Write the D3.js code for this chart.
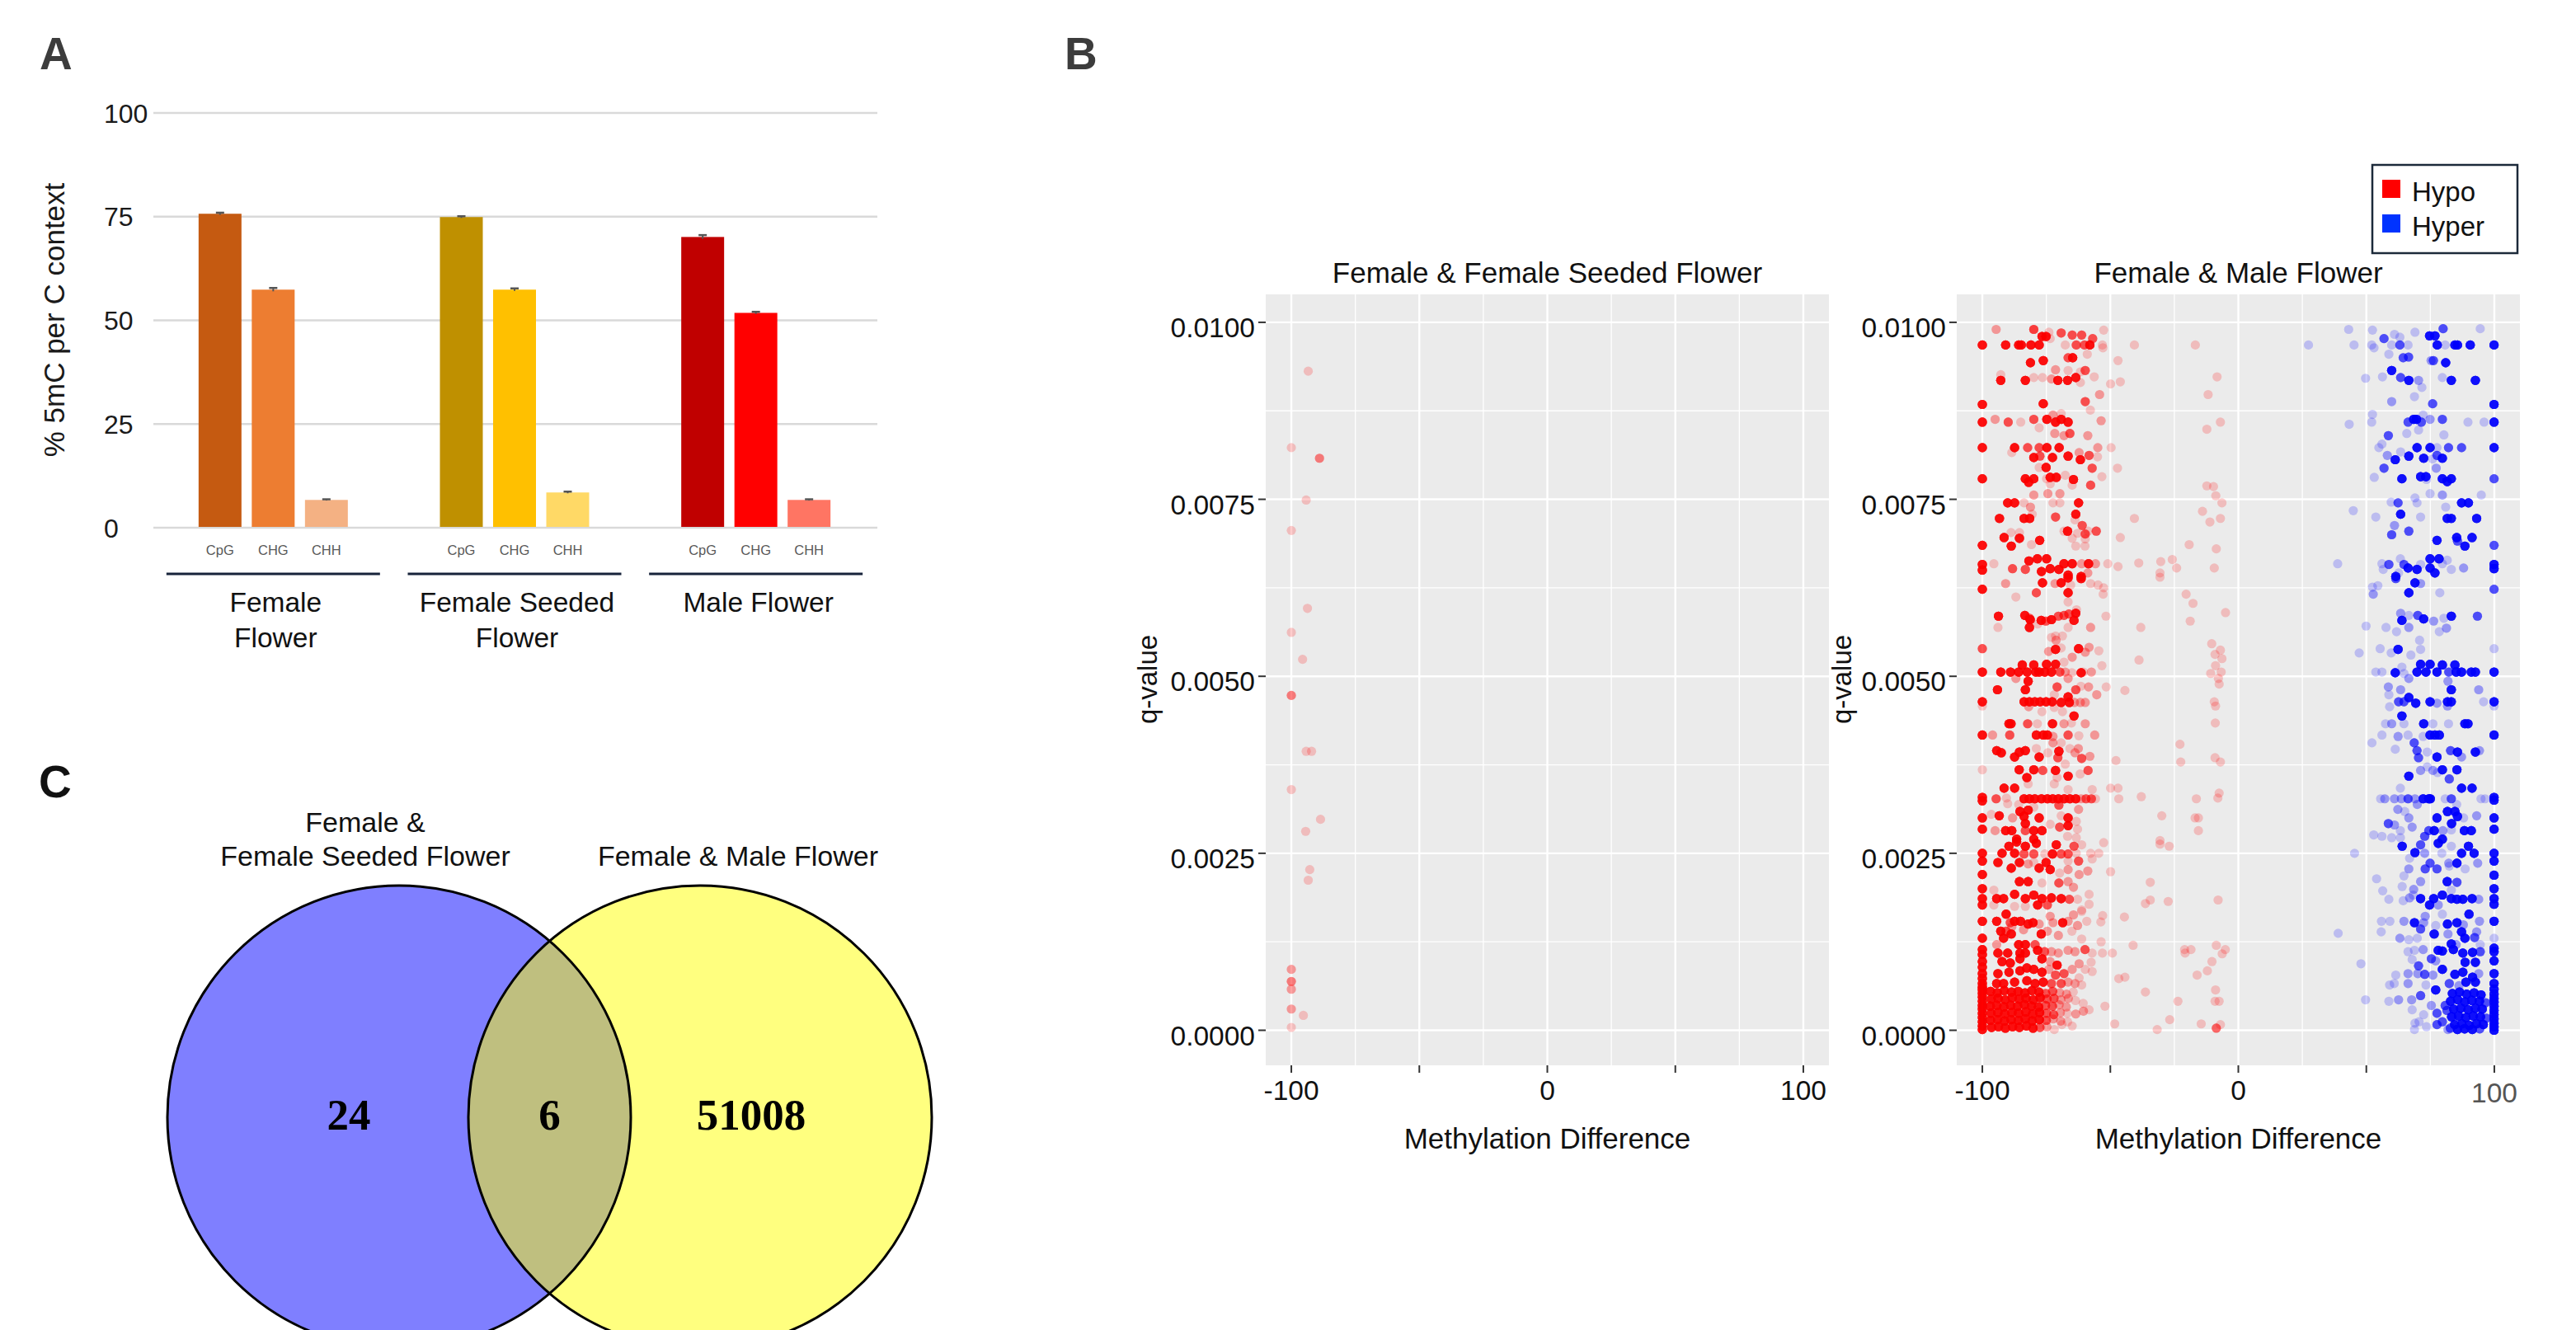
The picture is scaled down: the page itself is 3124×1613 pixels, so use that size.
<!DOCTYPE html>
<html>
<head>
<meta charset="utf-8">
<script src="https://cdn.jsdelivr.net/npm/d3@7"></script>
<style>
  html, body { margin: 0; padding: 0; background: #ffffff; }
  svg { display: block; }
  svg text { font-family: "Liberation Sans", Arial, Helvetica, sans-serif; }
  svg text.serif { font-family: "Liberation Serif", "Times New Roman", serif; }
</style>
</head>
<body>
<svg id="fig" width="3124" height="1613"></svg>
<script>
// ---------------- Panel A data: % 5mC per cytosine context ----------------
const contexts = ["CpG", "CHG", "CHH"];
const tissues = ["Female Flower", "Female Seeded Flower", "Male Flower"];
const tissueLabelLines = [["Female", "Flower"], ["Female Seeded", "Flower"], ["Male Flower"]];
const femaleFlowerPct = [75.7, 57.4, 6.7];
const femaleSeededPct = [74.9, 57.4, 8.5];
const maleFlowerPct = [70.1, 51.8, 6.7];
const femaleFlowerSE = [0.25, 0.4, 0.15];
const femaleSeededSE = [0.2, 0.3, 0.2];
const maleFlowerSE = [0.45, 0.25, 0.15];
const pctTicks = [0, 25, 50, 75, 100];
const barPalette = [
  ["#c55a11", "#ed7d31", "#f4b183"],
  ["#bf9000", "#ffc000", "#ffd966"],
  ["#c00000", "#ff0000", "#ff7563"]
];

// ---------------- Panel B data: DMR methylation difference vs q-value ----------------
const facetTitles = ["Female & Female Seeded Flower", "Female & Male Flower"];
const diffBreaks = [-100, -50, 0, 50, 100];
const diffBreakLabels = ["-100", "", "0", "", "100"];
const diffMinor = [-75, -25, 25, 75];
const qBreaks = [0, 0.0025, 0.005, 0.0075, 0.01];
const qBreakLabels = ["0.0000", "0.0025", "0.0050", "0.0075", "0.0100"];
const qMinor = [0.00125, 0.00375, 0.00625, 0.00875];
const legendLabels = ["Hypo", "Hyper"];

// each entry: [methylation difference, q-value, number of overlapping DMRs]
const seededHypo = [
  [-93.4,.00931,1],[-100,.00823,1],[-89.0,.00808,3],[-94.2,.00749,1],[-100,.00706,1],[-93.7,.00596,1],
  [-100,.00562,1],[-95.6,.00524,1],[-100,.00473,3],[-94.2,.00394,1],[-92.1,.00394,1],[-100,.00340,1],
  [-88.6,.00298,1],[-94.4,.00281,1],[-92.8,.00227,1],[-93.4,.00212,1],[-100,.00086,2],[-100,.00069,3],
  [-100,.00058,2],[-100,.00030,2],[-95.3,.00021,1],[-100,.00004,1]
];

const maleHypo = [
  [-94.6,.00990,2],[-79.9,.00990,6],[-74.0,.00986,1],[-69.2,.00985,5],[-64.9,.00982,5],[-61.2,.00982,5],[-56.9,.00977,5],[-52.6,.00989,1],[-76.7,.00980,12],[-75.1,.00980,12],
  [-100,.00968,12],[-90.9,.00968,12],[-85.8,.00968,12],[-84.8,.00968,12],[-81.0,.00968,12],[-77.8,.00968,12],[-67.6,.00968,1],[-63.3,.00968,5],[-60.1,.00968,5],[-58.0,.00968,12],[-53.1,.00968,1],[-40.6,.00968,1],[-16.8,.00968,1],[-73.5,.00977,1],[-52.9,.00964,1],
  [-81.2,.00943,12],[-76.2,.00946,12],[-66.5,.00950,5],[-64.7,.00950,12],[-59.0,.00955,1],[-47.0,.00946,1],
  [-92.8,.00926,1],[-92.8,.00918,12],[-83.2,.00918,12],[-79.9,.00922,1],[-76.5,.00922,1],[-71.4,.00933,2],[-73.0,.00920,2],[-70.5,.00918,12],[-66.5,.00932,1],[-66.7,.00918,12],[-63.5,.00922,12],[-61.7,.00915,1],[-59.8,.00932,5],[-61.7,.00930,1],[-56.3,.00923,1],[-49.9,.00913,1],[-46.1,.00916,1],[-8.3,.00923,1],
  [-54.2,.00898,2],[-11.8,.00898,1],[-100,.00884,12],[-76.2,.00885,12],[-59.8,.00888,5],[-57.8,.00876,1],
  [-100,.00859,12],[-95.0,.00863,2],[-89.9,.00859,5],[-85.0,.00859,1],[-79.9,.00863,5],[-77.8,.00851,1],[-74.8,.00863,12],[-72.4,.00869,2],[-69.2,.00871,1],[-71.4,.00859,12],[-69.2,.00863,12],[-66.5,.00859,12],[-53.6,.00861,2],[-71.7,.00843,2],[-68.1,.00840,2],[-65.8,.00843,5],[-58.8,.00840,2],[-12.3,.00849,1],[-7.0,.00859,1],
  [-100,.00823,12],[-88.5,.00816,1],[-87.4,.00823,12],[-82.3,.00823,5],[-77.8,.00823,5],[-74.8,.00823,12],[-70.0,.00823,12],[-62.2,.00816,2],[-54.9,.00823,2],[-49.7,.00823,1],[-79.9,.00809,12],[-77.5,.00811,5],[-72.6,.00809,12],[-66.5,.00811,12],[-61.7,.00806,12],[-58.3,.00812,5],[-55.0,.00810,1],[-75.1,.00795,12],[-77.8,.00795,1],[-57.1,.00794,5],[-47.2,.00794,1],
  [-100,.00779,12],[-83.2,.00779,12],[-79.9,.00779,12],[-81.9,.00774,12],[-73.5,.00781,12],[-71.1,.00781,12],[-74.9,.00779,1],[-67.6,.00784,1],[-64.4,.00778,12],[-64.9,.00770,1],[-57.7,.00770,5],[-53.3,.00782,1],[-73.5,.00772,1],[-12.3,.00769,1],[-9.7,.00768,1],[-8.8,.00755,1],[-6.4,.00745,1],
  [-79.9,.00756,2],[-74.4,.00758,2],[-69.7,.00758,2],[-72.4,.00745,1],[-69.7,.00745,1],[-90.1,.00745,12],[-87.4,.00745,12],[-83.7,.00745,1],[-62.4,.00745,12],[-81.2,.00739,2],[-80.5,.00729,1],[-93.3,.00723,12],[-83.7,.00723,12],[-81.5,.00723,12],[-71.4,.00725,5],[-63.5,.00729,12],[-63.8,.00721,1],[-40.6,.00723,1],[-14.0,.00733,1],[-11.1,.00718,1],[-7.0,.00723,1],
  [-61.0,.00713,5],[-88.8,.00703,1],[-85.5,.00703,1],[-91.5,.00696,12],[-85.5,.00695,12],[-88.7,.00684,12],[-77.6,.00692,12],[-66.7,.00705,12],[-68.1,.00705,1],[-62.8,.00702,1],[-59.8,.00701,5],[-58.7,.00705,1],[-55.5,.00705,5],[-46.1,.00696,1],[-64.9,.00695,1],[-59.8,.00694,1],[-63.5,.00684,1],[-59.9,.00684,1],[-100,.00685,12],[-80.8,.00686,1],[-19.2,.00686,1],[-8.6,.00680,1],
  [-100,.00658,12],[-100,.00650,12],[-95.5,.00659,1],[-88.2,.00652,5],[-83.2,.00651,5],[-81.8,.00663,12],[-78.5,.00666,12],[-74.9,.00666,12],[-76.9,.00648,12],[-73.5,.00652,12],[-70.1,.00651,12],[-68.1,.00659,12],[-64.9,.00659,12],[-61.2,.00659,2],[-58.5,.00659,12],[-55.8,.00659,2],[-51.0,.00659,1],[-47.0,.00655,1],[-38.9,.00660,1],[-30.3,.00662,1],[-25.8,.00665,1],[-24.1,.00653,1],[-9.4,.00653,1],[-30.6,.00646,1],[-66.5,.00643,12],[-61.4,.00641,12],[-58.8,.00646,2],
  [-90.9,.00631,2],[-76.5,.00632,12],[-69.2,.00632,12],[-61.4,.00638,12],[-66.5,.00639,12],[-71.6,.00631,2],[-65.5,.00629,1],[-57.7,.00631,1],[-54.8,.00629,1],[-52.6,.00625,1],[-100,.00623,12],[-78.9,.00618,5],[-66.5,.00618,12],[-52.8,.00616,1],[-86.9,.00612,1],[-66.5,.00605,1],[-20.4,.00616,1],[-17.7,.00603,1],[-5.0,.00590,1],[-30.6,.00640,1],
  [-93.7,.00585,12],[-83.4,.00586,12],[-81.6,.00582,5],[-81.3,.00580,12],[-77.0,.00579,12],[-75.2,.00578,5],[-73.0,.00580,12],[-70.3,.00585,5],[-68.1,.00586,5],[-66.2,.00588,5],[-63.5,.00589,12],[-64.2,.00579,12],[-63.2,.00594,1],[-81.6,.00569,12],[-93.9,.00569,1],[-78.4,.00574,1],[-66.5,.00569,1],[-57.7,.00569,2],[-51.7,.00585,1],[-38.1,.00569,1],[-18.8,.00578,1],
  [-73.0,.00555,1],[-71.4,.00557,1],[-68.7,.00557,1],[-71.2,.00551,2],[-100,.00539,5],[-71.4,.00538,12],[-74.1,.00535,2],[-69.2,.00540,1],[-62.4,.00539,12],[-59.8,.00534,2],[-58.3,.00541,2],[-54.5,.00536,1],[-64.9,.00527,2],[-68.1,.00520,1],[-53.3,.00515,1],[-38.8,.00523,1],[-10.4,.00546,1],[-7.0,.00537,1],[-9.1,.00531,1],[-6.4,.00525,1],[-8.9,.00515,1],
  [-100,.00506,12],[-92.8,.00506,12],[-89.0,.00506,12],[-85.8,.00506,12],[-82.5,.00506,12],[-79.1,.00506,12],[-84.4,.00516,12],[-79.9,.00516,12],[-74.9,.00517,12],[-71.4,.00517,12],[-77.8,.00506,12],[-75.6,.00506,12],[-73.0,.00506,12],[-69.7,.00506,5],[-67.6,.00506,2],[-65.0,.00505,1],[-61.4,.00505,12],[-57.4,.00506,2],[-60.5,.00506,1],[-10.8,.00504,1],[-6.7,.00506,1],[-7.8,.00497,1],[-7.5,.00489,1],
  [-86.9,.00497,2],[-82.1,.00493,12],[-66.5,.00497,2],[-94.1,.00481,12],[-83.2,.00481,12],[-70.8,.00485,5],[-63.5,.00481,5],[-61.5,.00486,1],[-58.5,.00485,2],[-55.3,.00474,2],[-51.6,.00485,1],[-44.3,.00480,1],[-71.9,.00474,1],
  [-100,.00464,12],[-100,.00458,1],[-83.7,.00464,12],[-81.6,.00464,12],[-79.5,.00464,12],[-77.4,.00464,12],[-75.1,.00464,12],[-72.7,.00464,12],[-69.2,.00463,12],[-66.5,.00471,12],[-66.0,.00463,12],[-64.0,.00463,2],[-61.7,.00463,2],[-59.8,.00463,2],[-81.9,.00457,2],[-76.7,.00450,1],[-71.9,.00456,1],[-68.7,.00450,1],[-64.2,.00444,12],[-9.4,.00464,1],[-8.9,.00458,1],
  [-89.6,.00433,12],[-88.8,.00433,12],[-82.3,.00433,5],[-78.5,.00433,1],[-72.6,.00433,12],[-68.1,.00433,2],[-65.2,.00434,1],[-59.8,.00433,2],[-9.0,.00434,1],[-100,.00417,12],[-96.0,.00417,2],[-89.3,.00417,5],[-78.9,.00417,12],[-76.2,.00417,12],[-74.6,.00417,12],[-72.4,.00415,2],[-66.5,.00417,5],[-62.3,.00416,1],[-56.1,.00417,2],[-22.8,.00404,1],
  [-94.4,.00395,12],[-92.6,.00392,12],[-87.4,.00386,12],[-85.5,.00393,12],[-83.2,.00395,12],[-77.8,.00386,12],[-72.4,.00406,2],[-69.2,.00406,1],[-78.9,.00398,1],[-74.4,.00392,1],[-70.1,.00394,12],[-70.5,.00385,5],[-65.8,.00398,1],[-63.8,.00392,2],[-61.2,.00384,5],[-58.0,.00387,2],[-62.5,.00398,2],[-47.8,.00381,1],[-22.5,.00379,1],[-9.1,.00385,1],[-7.0,.00379,1],
  [-100,.00368,1],[-85.6,.00368,12],[-79.9,.00368,12],[-82.6,.00357,12],[-76.4,.00367,5],[-71.4,.00367,12],[-66.5,.00359,12],[-58.7,.00367,5],[-61.8,.00362,1],[-70.8,.00357,1],[-67.6,.00376,1],[-91.5,.00342,12],[-87.4,.00342,12],[-82.1,.00348,1],[-71.9,.00348,1],[-66.5,.00340,1],[-57.1,.00340,1],[-49.9,.00342,1],[-47.0,.00342,1],
  [-100,.00329,12],[-100,.00324,12],[-94.6,.00327,5],[-83.7,.00327,12],[-81.6,.00327,12],[-79.5,.00327,12],[-76.9,.00327,12],[-74.6,.00327,12],[-72.5,.00327,12],[-70.3,.00327,12],[-68.0,.00327,12],[-65.8,.00327,12],[-63.5,.00327,12],[-61.4,.00327,2],[-59.5,.00327,5],[-57.4,.00327,5],[-55.8,.00327,1],[-90.1,.00320,1],[-90.6,.00328,1],[-85.8,.00319,1],[-79.9,.00315,1],[-70.1,.00318,5],[-62.4,.00312,2],[-46.7,.00327,1],[-37.9,.00330,1],[-16.4,.00327,1],[-7.5,.00335,1],[-8.0,.00328,1],
  [-100,.00300,12],[-100,.00284,12],[-93.4,.00303,12],[-88.2,.00300,2],[-85.3,.00309,12],[-82.1,.00311,12],[-83.7,.00302,12],[-83.2,.00292,12],[-77.8,.00300,12],[-96.5,.00305,1],[-95.0,.00282,2],[-90.9,.00282,12],[-88.5,.00282,12],[-83.2,.00282,5],[-79.9,.00282,12],[-76.7,.00282,12],[-73.5,.00291,1],[-69.8,.00287,5],[-66.5,.00300,12],[-66.5,.00289,12],[-69.2,.00303,1],[-62.8,.00284,1],[-63.3,.00295,1],[-66.7,.00274,1],[-63.3,.00272,1],[-86.6,.00270,12],[-79.9,.00270,12],[-29.9,.00303,1],[-16.9,.00300,1],[-15.6,.00300,1],[-15.6,.00282,1],[-30.6,.00268,1],
  [-100,.00250,12],[-100,.00239,12],[-100,.00220,12],[-100,.00200,12],[-100,.00186,12],[-100,.00177,12],[-100,.00154,12],[-100,.00130,12],[-100,.00114,12],[-100,.00107,12],[-100,.00097,12],[-100,.00089,12],[-100,.00080,12],[-100,.00073,12],[-100,.00066,12],[-100,.00061,12],[-100,.00057,12],[-100,.00052,12],[-100,.00047,12],[-100,.00041,12],[-100,.00035,12],[-100,.00030,12],[-100,.00024,12],[-100,.00018,12],[-100,.00012,12],[-100,.00006,12],[-100,.00001,12],
  [-89.6,.00260,12],[-86.6,.00266,12],[-83.2,.00260,12],[-78.9,.00264,12],[-71.1,.00262,12],[-64.2,.00260,5],[-61.2,.00262,1],[-52.6,.00265,1],[-30.6,.00263,1],[-27.0,.00260,1],
  [-92.3,.00250,12],[-87.4,.00250,12],[-83.7,.00249,5],[-79.9,.00249,5],[-75.6,.00249,1],[-72.6,.00249,12],[-69.2,.00249,5],[-66.5,.00249,5],[-63.3,.00250,1],[-57.7,.00250,1],[-54.5,.00250,1],
  [-93.9,.00237,12],[-85.5,.00237,12],[-82.1,.00235,2],[-79.9,.00237,1],[-75.1,.00237,12],[-66.5,.00239,1],[-62.4,.00239,5],[-57.1,.00242,1],
  [-88.7,.00229,12],[-77.8,.00229,12],[-73.5,.00227,12],[-69.8,.00222,1],[-66.5,.00227,2],[-62.2,.00220,2],[-58.8,.00225,2],[-49.9,.00224,1],
  [-85.5,.00210,12],[-82.1,.00210,12],[-76.7,.00208,1],[-70.1,.00208,5],[-66.5,.00210,2],[-64.4,.00202,2],[-34.4,.00209,1],
  [-95.5,.00198,1],[-94.4,.00186,12],[-91.7,.00186,12],[-87.4,.00192,12],[-83.2,.00186,12],[-79.9,.00191,12],[-76.7,.00186,12],[-73.0,.00187,12],[-69.2,.00186,12],[-78.4,.00177,12],[-74.6,.00177,5],[-83.2,.00175,1],[-95.5,.00177,1],[-87.4,.00175,1],[-66.0,.00185,5],[-62.8,.00185,1],[-58.3,.00192,1],[-58.3,.00178,1],[-61.2,.00170,1],[-36.3,.00179,1],[-34.4,.00184,1],[-27.4,.00182,1],[-7.9,.00184,1],
  [-90.7,.00164,12],[-94.4,.00154,12],[-89.1,.00152,5],[-87.4,.00154,12],[-85.1,.00154,12],[-82.1,.00150,12],[-80.2,.00152,12],[-77.8,.00150,2],[-73.5,.00161,2],[-72.4,.00152,2],[-68.6,.00152,12],[-64.4,.00163,2],[-66.5,.00154,2],[-61.2,.00168,1],[-59.2,.00154,1],[-62.8,.00148,2],[-53.7,.00153,1],[-53.0,.00162,1],[-44.5,.00160,1],[-92.8,.00140,12],[-90.7,.00140,5],[-88.5,.00146,2],[-83.9,.00142,2],[-77.0,.00136,12],[-74.6,.00140,2],[-70.3,.00134,2],[-65.0,.00140,1],[-61.2,.00129,1],
  [-91.7,.00130,12],[-88.7,.00136,12],[-85.8,.00121,12],[-83.2,.00121,12],[-94.4,.00121,2],[-79.4,.00121,5],[-93.9,.00109,12],[-90.1,.00109,12],[-85.3,.00109,12],[-83.2,.00109,12],[-78.4,.00113,12],[-75.7,.00111,5],[-73.0,.00111,2],[-70.3,.00109,2],[-66.5,.00113,2],[-63.8,.00111,2],[-59.9,.00114,5],[-57.1,.00109,1],[-53.1,.00109,1],[-49.2,.00109,1],[-53.6,.00125,1],[-41.1,.00120,1],[-92.3,.00097,12],[-89.1,.00095,12],[-85.3,.00101,12],[-76.7,.00101,12],[-73.5,.00097,2],[-70.8,.00092,12],[-62.2,.00094,2],[-57.5,.00096,1],[-21.0,.00114,1],[-18.5,.00114,1],[-20.8,.00109,1],[-8.6,.00120,1],[-5.1,.00114,1],[-6.3,.00108,1],[-10.3,.00097,1],
  [-93.9,.00080,12],[-89.6,.00082,12],[-85.3,.00084,12],[-82.6,.00088,12],[-79.9,.00086,12],[-76.7,.00082,12],[-74.0,.00086,2],[-71.4,.00078,5],[-68.1,.00080,5],[-64.9,.00086,2],[-62.2,.00074,1],[-59.8,.00086,1],[-57.1,.00083,1],[-94.4,.00066,12],[-91.7,.00066,12],[-87.4,.00068,12],[-82.6,.00070,12],[-79.4,.00066,12],[-76.2,.00068,12],[-73.0,.00066,5],[-69.2,.00066,5],[-66.5,.00068,2],[-63.8,.00066,2],[-61.2,.00064,1],[-46.7,.00073,1],[-44.3,.00075,1],[-16.1,.00078,1],[-12.1,.00084,1],
  [-96.8,.00055,12],[-94.1,.00053,12],[-91.4,.00056,12],[-88.6,.00054,12],[-86.0,.00055,12],[-83.3,.00053,12],[-80.6,.00056,12],[-77.9,.00054,12],[-75.2,.00052,5],[-72.5,.00055,5],[-69.8,.00053,2],[-67.1,.00051,2],[-64.5,.00054,1],
  [-96.5,.00044,12],[-93.8,.00045,12],[-91.1,.00043,12],[-88.3,.00046,12],[-85.6,.00044,12],[-82.9,.00045,12],[-80.1,.00043,12],[-77.4,.00046,12],[-74.7,.00044,5],[-72.0,.00045,5],[-69.3,.00043,2],[-66.4,.00045,2],[-63.6,.00042,1],
  [-96.9,.00034,12],[-94.3,.00035,12],[-91.6,.00033,12],[-88.9,.00035,12],[-86.2,.00034,12],[-83.5,.00036,12],[-80.8,.00034,12],[-78.0,.00033,12],[-75.3,.00035,5],[-72.6,.00034,5],[-70.0,.00036,2],[-67.2,.00033,2],[-60.6,.00038,1],
  [-96.6,.00024,12],[-93.9,.00025,12],[-91.2,.00023,12],[-88.4,.00025,12],[-85.8,.00024,12],[-83.0,.00026,12],[-80.3,.00023,12],[-77.6,.00025,12],[-74.9,.00024,5],[-72.1,.00022,5],[-69.5,.00025,2],[-66.8,.00024,1],[-63.5,.00023,2],[-60.5,.00027,2],
  [-96.8,.00014,12],[-94.0,.00015,12],[-91.3,.00013,12],[-88.7,.00015,12],[-85.9,.00014,12],[-83.2,.00016,12],[-80.5,.00013,12],[-77.7,.00015,12],[-75.0,.00014,5],[-72.3,.00016,2],[-69.4,.00013,2],[-66.7,.00012,1],[-64.9,.00006,1],
  [-96.4,.00004,12],[-93.7,.00005,12],[-91.0,.00003,12],[-88.2,.00005,12],[-85.5,.00004,12],[-82.8,.00006,12],[-80.2,.00003,12],[-77.5,.00004,5],[-74.8,.00005,2],[-71.9,.00001,1],[-68.9,.00008,1],
  [-36.3,.00054,1],[-52.1,.00034,1],[-58.3,.00029,1],[-31.7,.00001,1],[-26.8,.00015,1],[-23.6,.00041,1],[-14.5,.00009,1],[-8.6,.00003,4],[-7.0,.00008,1],[-8.9,.00057,1],[-9.1,.00041,1],[-7.5,.00041,1],[-48.3,.00009,1]
];

const maleHyper = [
  [43.1,.00990,1],[52.4,.00989,1],[61.0,.00983,1],[63.1,.00979,1],[56.9,.00977,5],[69.0,.00986,1],[74.7,.00981,12],[76.8,.00981,12],[80.0,.00991,5],[94.5,.00991,1],
  [27.4,.00968,1],[45.2,.00968,1],[52.1,.00968,1],[53.0,.00964,1],[59.9,.00968,1],[63.1,.00968,5],[66.3,.00968,1],[77.7,.00968,12],[80.8,.00968,1],[84.6,.00968,12],[85.6,.00968,12],[90.6,.00968,12],[99.9,.00968,12],
  [58.8,.00955,1],[64.4,.00950,5],[66.5,.00951,5],[75.3,.00946,2],[76.2,.00946,5],[81.0,.00943,12],
  [59.9,.00932,12],[49.7,.00921,1],[56.3,.00923,1],[63.4,.00922,5],[66.6,.00918,12],[70.4,.00918,2],[71.7,.00908,1],[79.7,.00922,1],[83.2,.00918,12],[92.6,.00918,12],
  [68.8,.00895,1],[59.9,.00888,2],[75.9,.00885,5],[99.9,.00884,12],
  [52.4,.00870,1],[43.3,.00856,1],[52.1,.00859,1],[66.3,.00859,5],[68.5,.00863,12],[69.6,.00863,12],[71.5,.00859,5],[72.2,.00869,1],[74.9,.00863,2],[79.7,.00863,5],[89.7,.00859,1],[96.0,.00859,1],[99.9,.00859,12],[58.6,.00840,5],[65.8,.00843,1],[70.4,.00848,1],[80.3,.00841,1],
  [56.1,.00828,1],[54.9,.00823,1],[63.4,.00817,1],[58.2,.00812,2],[61.3,.00806,12],[66.6,.00811,12],[69.8,.00823,12],[74.9,.00823,12],[77.6,.00823,1],[82.1,.00823,5],[87.2,.00823,5],[99.9,.00823,12],[72.4,.00808,12],[75.9,.00807,1],[77.6,.00812,5],[79.7,.00808,12],
  [56.9,.00794,5],[53.1,.00781,1],[63.9,.00779,12],[71.2,.00782,12],[73.3,.00782,12],[73.5,.00778,1],[77.3,.00794,2],[79.7,.00779,12],[81.6,.00775,12],[83.2,.00779,12],[99.9,.00779,5],
  [74.9,.00758,1],[79.7,.00756,2],[94.9,.00756,1],[59.7,.00746,1],[62.4,.00745,5],[69.8,.00745,1],[69.0,.00752,1],[87.2,.00745,12],[89.9,.00745,12],[81.0,.00739,1],[44.9,.00734,1],[53.7,.00725,1],[63.4,.00729,12],[71.2,.00725,1],[81.6,.00723,12],[83.2,.00723,12],[93.1,.00723,12],
  [61.0,.00713,2],[59.9,.00700,5],[66.6,.00705,5],[77.6,.00692,12],[85.3,.00696,12],[85.6,.00691,5],[91.3,.00696,12],[88.5,.00684,12],[99.9,.00685,5],
  [38.8,.00659,1],[56.1,.00659,1],[58.8,.00658,5],[63.3,.00666,1],[64.7,.00658,5],[66.3,.00653,12],[69.8,.00651,12],[71.2,.00658,1],[74.9,.00666,12],[74.9,.00653,12],[78.4,.00666,12],[76.8,.00646,12],[79.7,.00659,1],[81.6,.00664,1],[83.2,.00651,1],[88.0,.00653,2],[99.9,.00658,12],[99.9,.00652,12],[61.5,.00641,12],[56.6,.00651,1],[62.6,.00646,1],
  [69.0,.00632,12],[61.5,.00638,5],[71.2,.00631,2],[52.4,.00626,1],[54.5,.00628,1],[52.7,.00616,2],[66.6,.00618,12],[78.7,.00618,1],[99.9,.00623,5],
  [63.4,.00589,2],[63.9,.00579,12],[66.6,.00586,1],[70.1,.00586,5],[72.4,.00581,12],[76.3,.00578,2],[80.3,.00582,1],[83.2,.00585,12],[93.4,.00585,5],[81.3,.00568,2],[78.5,.00563,1],[66.6,.00569,2],[57.7,.00569,1],[61.8,.00563,1],[49.9,.00571,1],
  [70.8,.00551,1],[71.2,.00538,1],[62.4,.00538,12],[67.4,.00530,1],[59.7,.00533,1],[55.4,.00539,1],[47.2,.00533,1],[99.9,.00539,1],
  [71.2,.00517,12],[74.9,.00517,12],[79.7,.00516,12],[84.6,.00516,12],[53.7,.00506,1],[56.1,.00506,1],[61.3,.00505,12],[63.9,.00513,1],[64.7,.00504,1],[66.6,.00497,2],[69.8,.00506,12],[73.3,.00506,12],[77.6,.00506,12],[82.2,.00506,5],[85.1,.00506,12],[87.2,.00506,12],[91.0,.00506,12],[92.6,.00506,12],[99.9,.00506,12],[81.9,.00493,2],
  [58.6,.00485,2],[58.8,.00474,1],[63.4,.00481,2],[83.2,.00481,12],[93.9,.00481,2],[66.6,.00470,12],[62.6,.00464,5],[64.7,.00464,5],[69.3,.00462,12],[74.9,.00464,12],[77.6,.00462,2],[81.7,.00464,12],[83.2,.00464,12],[95.8,.00464,1],[99.9,.00464,12],[59.1,.00457,1],[99.9,.00458,1],[81.7,.00458,2],
  [63.9,.00444,12],[57.5,.00433,1],[59.9,.00433,2],[64.7,.00433,1],[72.4,.00433,12],[76.0,.00433,1],[82.1,.00433,1],[88.5,.00433,12],[89.7,.00433,12],[56.1,.00417,1],[62.4,.00415,2],[66.3,.00417,1],[72.2,.00415,1],[74.9,.00417,12],[76.8,.00417,12],[78.5,.00417,12],[99.9,.00417,12],[52.2,.00406,1],[61.3,.00397,1],[68.7,.00406,5],
  [69.8,.00395,5],[70.4,.00385,5],[73.8,.00393,1],[77.6,.00386,12],[82.9,.00395,5],[85.6,.00393,12],[87.2,.00386,2],[92.6,.00393,12],[94.2,.00395,2],[73.8,.00372,1],
  [66.6,.00359,12],[71.2,.00367,2],[76.0,.00367,2],[77.8,.00364,1],[79.7,.00368,12],[82.4,.00355,5],[85.4,.00368,12],[63.3,.00342,1],[87.2,.00342,12],[91.3,.00342,12],
  [55.6,.00327,1],[57.2,.00327,2],[61.0,.00327,2],[63.7,.00327,2],[66.3,.00327,5],[69.0,.00327,2],[72.2,.00327,12],[74.4,.00327,12],[75.0,.00327,12],[80.8,.00327,1],[83.2,.00327,5],[94.8,.00327,1],[96.4,.00327,1],[99.9,.00329,12],[99.9,.00325,12],[69.9,.00319,2],[62.3,.00312,2],[85.3,.00319,1],
  [65.0,.00309,1],[81.7,.00309,12],[84.6,.00309,12],[85.6,.00302,12],[88.0,.00300,1],[77.6,.00300,12],[93.1,.00303,2],[99.9,.00300,12],[66.6,.00300,2],[58.6,.00292,5],[61.0,.00290,2],[83.3,.00292,12],[67.9,.00287,2],[63.3,.00282,1],[99.9,.00284,12],[74.4,.00282,5],[76.5,.00282,12],[79.9,.00282,2],[83.2,.00283,1],[88.3,.00282,12],[91.0,.00282,12],[52.9,.00276,1],[56.1,.00274,1],[59.9,.00272,1],[63.3,.00272,1],[72.8,.00274,5],[79.7,.00270,12],
  [64.0,.00260,12],[71.2,.00262,5],[78.1,.00264,12],[83.2,.00260,1],[89.9,.00260,12],[87.2,.00250,12],[92.1,.00250,12],[99.9,.00250,12],[69.0,.00251,12],[72.8,.00250,2],[79.5,.00250,1],[45.4,.00250,1],[66.9,.00243,1],
  [99.9,.00239,12],[74.9,.00236,5],[85.4,.00236,12],[82.2,.00236,2],[93.5,.00236,2],[73.0,.00228,5],[77.6,.00228,5],[66.6,.00228,2],[88.6,.00228,1],[82.4,.00232,1],
  [99.9,.00219,12],[54.0,.00214,1],[64.7,.00218,1],[71.2,.00210,2],[81.6,.00210,12],[85.4,.00209,5],[56.4,.00197,1],[64.0,.00203,1],[68.5,.00199,2],[99.9,.00200,12],[83.2,.00198,1],
  [58.8,.00185,1],[64.4,.00183,1],[66.9,.00187,2],[71.2,.00186,12],[76.3,.00186,12],[74.7,.00177,12],[79.7,.00191,12],[78.1,.00177,2],[83.2,.00186,12],[85.4,.00185,12],[87.7,.00185,12],[91.3,.00186,12],[93.9,.00185,2],[99.9,.00186,12],[99.9,.00178,12],[68.3,.00191,1],
  [90.1,.00164,12],[73.0,.00161,2],[79.7,.00164,1],[55.9,.00154,1],[59.2,.00154,1],[64.7,.00154,2],[68.8,.00152,12],[71.2,.00143,5],[72.4,.00152,2],[77.1,.00148,1],[81.7,.00150,12],[85.4,.00152,12],[87.9,.00149,2],[94.2,.00154,2],[99.9,.00154,12],
  [55.8,.00139,1],[39.0,.00137,1],[63.1,.00130,2],[66.6,.00128,1],[76.5,.00136,12],[81.9,.00136,2],[87.2,.00139,12],[88.5,.00130,12],[92.3,.00131,5],[93.1,.00139,2],[99.9,.00130,1],[69.9,.00130,1],
  [83.2,.00122,12],[85.1,.00121,2],[94.5,.00121,1],[99.9,.00116,12],[99.9,.00111,12],[99.9,.00098,12],[66.3,.00111,1],[68.8,.00113,1],[72.2,.00114,2],[75.4,.00101,5],[78.1,.00113,12],[79.7,.00112,12],[84.0,.00114,12],[87.7,.00109,12],[91.5,.00110,12],[94.5,.00111,5],[88.6,.00096,12],[92.6,.00096,12],[47.9,.00094,1],[67.9,.00100,1],[77.1,.00098,2],
  [70.4,.00091,5],[99.9,.00080,12],[99.9,.00066,12],[79.7,.00086,12],[84.6,.00079,12],[87.7,.00082,12],[91.5,.00075,12],[93.9,.00080,2],[88.9,.00068,12],[92.6,.00068,12],[61.5,.00078,1],[66.3,.00080,2],[70.1,.00080,2],[72.8,.00079,5],[76.0,.00078,2],[59.1,.00064,1],[60.9,.00066,1],[66.3,.00066,2],[73.3,.00064,1],[77.1,.00057,12],[82.4,.00066,5],[86.2,.00063,2],
  [49.7,.00043,1],[58.8,.00041,1],[62.6,.00043,2],[67.7,.00043,2],[71.2,.00049,5],[67.9,.00029,1],[72.4,.00022,1],[69.0,.00010,1],[68.8,.00001,1],[73.5,.00005,1],[70.6,.00012,1],[75.4,.00035,2],[77.6,.00024,5],[77.6,.00008,5],[79.7,.00012,5],[80.8,.00035,5],[81.9,.00001,2],
  [99.9,.00058,12],[99.9,.00051,12],[99.9,.00045,12],[99.9,.00040,12],[99.9,.00034,12],[99.9,.00028,12],[99.9,.00022,12],[99.9,.00016,12],[99.9,.00010,12],[99.9,.00005,12],[99.9,.00000,12],
  [83.6,.00052,12],[86.4,.00054,12],[89.2,.00051,12],[92.1,.00053,12],[94.8,.00050,12],
  [82.9,.00041,12],[85.7,.00043,12],[88.5,.00040,12],[91.3,.00042,12],[94.2,.00041,12],[96.6,.00039,5],
  [84.1,.00030,12],[86.9,.00031,12],[89.8,.00029,12],[92.6,.00031,12],[95.3,.00030,12],[81.5,.00028,5],
  [83.3,.00019,12],[86.1,.00020,12],[88.9,.00018,12],[91.8,.00020,12],[94.6,.00019,12],[96.9,.00017,5],
  [84.5,.00008,12],[87.3,.00009,12],[90.2,.00007,12],[93.0,.00009,12],[95.7,.00008,12],
  [85.6,.00001,12],[88.4,.00002,12],[91.4,.00001,12],[94.3,.00002,5],[82.8,.00003,5]
];

// ---------------- Panel C data: overlap of DMR sets ----------------
const vennSetLabels = [["Female &", "Female Seeded Flower"], ["Female & Male Flower"]];
const vennRegionCounts = [24, 6, 51008]; // left only, shared, right only

// ====================================================================
const svg = d3.select("#fig");
svg.append("rect").attr("width", 3124).attr("height", 1613).attr("fill", "#ffffff");

// panel letters
const letters = [["A", 48, 84, "#3c3c3c"], ["B", 1291, 84, "#3c3c3c"], ["C", 47, 967, "#111111"]];
svg.selectAll("text.panel-letter").data(letters).join("text")
  .attr("class", "panel-letter")
  .attr("x", d => d[1]).attr("y", d => d[2])
  .attr("fill", d => d[3])
  .attr("font-size", 55).attr("font-weight", "bold")
  .text(d => d[0]);

// ---------------- Panel A ----------------
(function drawBars() {
  const g = svg.append("g");
  const pct = [femaleFlowerPct, femaleSeededPct, maleFlowerPct];
  const se = [femaleFlowerSE, femaleSeededSE, maleFlowerSE];
  const y = d3.scaleLinear().domain([0, 100]).range([640, 137]);
  const x0 = d3.scaleBand().domain(tissues).range([185, 1063]);
  const innerW = 193.5;
  const x1 = d3.scaleBand().domain(contexts).range([0, innerW]).paddingInner(0.194).paddingOuter(0.097);
  const groupLeft = t => x0(t) + (x0.bandwidth() - innerW) / 2;

  g.selectAll("line.grid").data(pctTicks).join("line")
    .attr("x1", 186).attr("x2", 1064)
    .attr("y1", d => y(d)).attr("y2", d => y(d))
    .attr("stroke", "#d9d9d9").attr("stroke-width", 2.5);
  g.selectAll("text.ytick").data(pctTicks).join("text")
    .attr("x", 126).attr("y", d => y(d)).attr("dy", "0.36em")
    .attr("font-size", 32).attr("fill", "#1a1a1a")
    .text(d => d);

  g.append("text")
    .attr("transform", "translate(78,388) rotate(-90)")
    .attr("text-anchor", "middle").attr("font-size", 35).attr("fill", "#1a1a1a")
    .text("% 5mC per C context");

  const bars = [];
  tissues.forEach((t, i) => contexts.forEach((c, j) => bars.push({ t, c, i, j, v: pct[i][j], e: se[i][j] })));

  g.selectAll("rect.bar").data(bars).join("rect")
    .attr("x", d => groupLeft(d.t) + x1(d.c))
    .attr("width", x1.bandwidth())
    .attr("y", d => y(d.v))
    .attr("height", d => y(0) - y(d.v) - 1)
    .attr("fill", d => barPalette[d.i][d.j]);

  const eb = g.selectAll("g.err").data(bars).join("g")
    .attr("transform", d => `translate(${groupLeft(d.t) + x1(d.c) + x1.bandwidth() / 2},0)`);
  eb.append("line").attr("x1", 0).attr("x2", 0)
    .attr("y1", d => y(d.v - d.e)).attr("y2", d => y(d.v + d.e))
    .attr("stroke", "#555555").attr("stroke-width", 2);
  eb.append("line").attr("x1", -5).attr("x2", 5)
    .attr("y1", d => y(d.v + d.e)).attr("y2", d => y(d.v + d.e))
    .attr("stroke", "#555555").attr("stroke-width", 2.5);

  g.selectAll("text.ctx").data(bars).join("text")
    .attr("x", d => groupLeft(d.t) + x1(d.c) + x1.bandwidth() / 2)
    .attr("y", 673).attr("text-anchor", "middle")
    .attr("font-size", 16.5).attr("fill", "#595959")
    .text(d => d.c);

  g.selectAll("line.grp").data(tissues).join("line")
    .attr("x1", d => x0(d) + x0.bandwidth() / 2 - 129.5)
    .attr("x2", d => x0(d) + x0.bandwidth() / 2 + 129.5)
    .attr("y1", 696).attr("y2", 696)
    .attr("stroke", "#17233a").attr("stroke-width", 3);

  const lab = g.selectAll("text.grp").data(tissues).join("text")
    .attr("text-anchor", "middle").attr("font-size", 33.5).attr("fill", "#111111");
  lab.each(function (d, i) {
    d3.select(this).selectAll("tspan").data(tissueLabelLines[i]).join("tspan")
      .attr("x", x0(d) + x0.bandwidth() / 2 + 3)
      .attr("y", (s, k) => 742 + k * 43)
      .text(s => s);
  });
})();

// ---------------- Panel B ----------------
(function drawScatter() {
  const y = d3.scaleLinear().domain([-0.000495, 0.010395]).range([1292, 357]);
  const facets = [
    { title: facetTitles[0], x0: 1535, x1: 2218, qTitleX: 1403, series: [[seededHypo, "#ff0000"]] },
    { title: facetTitles[1], x0: 2373, x1: 3056, qTitleX: 2245, series: [[maleHypo, "#ff0000"], [maleHyper, "#0000ff"]] }
  ];
  facets.forEach((f, fi) => {
    const g = svg.append("g");
    const x = d3.scaleLinear().domain([-110, 110]).range([f.x0, f.x1]);
    g.append("rect").attr("x", f.x0).attr("y", 357).attr("width", f.x1 - f.x0).attr("height", 935).attr("fill", "#ebebeb");

    g.selectAll("line.vminor").data(diffMinor).join("line")
      .attr("x1", d => x(d)).attr("x2", d => x(d)).attr("y1", 357).attr("y2", 1292)
      .attr("stroke", "#ffffff").attr("stroke-width", 1.3);
    g.selectAll("line.hminor").data(qMinor).join("line")
      .attr("x1", f.x0).attr("x2", f.x1).attr("y1", d => y(d)).attr("y2", d => y(d))
      .attr("stroke", "#ffffff").attr("stroke-width", 1.3);
    g.selectAll("line.vmajor").data(diffBreaks).join("line")
      .attr("x1", d => x(d)).attr("x2", d => x(d)).attr("y1", 357).attr("y2", 1292)
      .attr("stroke", "#ffffff").attr("stroke-width", 2.4);
    g.selectAll("line.hmajor").data(qBreaks).join("line")
      .attr("x1", f.x0).attr("x2", f.x1).attr("y1", d => y(d)).attr("y2", d => y(d))
      .attr("stroke", "#ffffff").attr("stroke-width", 2.4);

    // points, one circle per DMR
    const clipId = "clip" + fi;
    g.append("clipPath").attr("id", clipId).append("rect")
      .attr("x", f.x0).attr("y", 357).attr("width", f.x1 - f.x0).attr("height", 935);
    const pg = g.append("g").attr("clip-path", `url(#${clipId})`);
    f.series.forEach(([data, color]) => {
      const expanded = data.flatMap(d => d3.range(d[2]).map(() => d));
      pg.append("g").selectAll("circle").data(expanded).join("circle")
        .attr("cx", d => x(d[0])).attr("cy", d => y(d[1])).attr("r", 5.6)
        .attr("fill", color).attr("fill-opacity", 0.2);
    });

    // axis ticks and labels
    g.selectAll("line.ytk").data(qBreaks).join("line")
      .attr("x1", f.x0 - 9).attr("x2", f.x0).attr("y1", d => y(d)).attr("y2", d => y(d))
      .attr("stroke", "#333333").attr("stroke-width", 2);
    g.selectAll("line.xtk").data(diffBreaks).join("line")
      .attr("x1", d => x(d)).attr("x2", d => x(d)).attr("y1", 1292).attr("y2", 1301)
      .attr("stroke", "#333333").attr("stroke-width", 2);
    g.selectAll("text.ytl").data(qBreaks).join("text")
      .attr("x", f.x0 - 13).attr("y", d => y(d) + 6).attr("dy", "0.36em")
      .attr("text-anchor", "end").attr("font-size", 33.5).attr("fill", "#111111")
      .text((d, i) => qBreakLabels[i]);
    g.selectAll("text.xtl").data(diffBreaks).join("text")
      .attr("x", d => x(d))
      .attr("y", (d, i) => (fi === 1 && i === 4) ? 1337 : 1334)
      .attr("text-anchor", "middle").attr("font-size", 33.5)
      .attr("fill", (d, i) => (fi === 1 && i === 4) ? "#555555" : "#111111")
      .text((d, i) => diffBreakLabels[i]);

    g.append("text").attr("x", (f.x0 + f.x1) / 2).attr("y", 1393)
      .attr("text-anchor", "middle").attr("font-size", 35).attr("fill", "#111111")
      .text("Methylation Difference");
    g.append("text").attr("x", (f.x0 + f.x1) / 2).attr("y", 343)
      .attr("text-anchor", "middle").attr("font-size", 35).attr("fill", "#111111")
      .text(f.title);
    g.append("text")
      .attr("transform", `translate(${f.qTitleX},824) rotate(-90)`)
      .attr("text-anchor", "middle").attr("font-size", 33).attr("fill", "#111111")
      .text("q-value");
  });

  // legend
  const lg = svg.append("g");
  lg.append("rect").attr("x", 2877).attr("y", 200).attr("width", 176).attr("height", 107)
    .attr("fill", "#ffffff").attr("stroke", "#1c2a3a").attr("stroke-width", 2.5);
  const keyColors = ["#ff0000", "#0033ff"];
  lg.selectAll("rect.key").data(legendLabels).join("rect")
    .attr("x", 2889).attr("y", (d, i) => 218 + i * 42).attr("width", 22).attr("height", 22)
    .attr("fill", (d, i) => keyColors[i]);
  lg.selectAll("text.key").data(legendLabels).join("text")
    .attr("x", 2925).attr("y", (d, i) => 244 + i * 42)
    .attr("font-size", 33).attr("fill", "#111111")
    .text(d => d);
})();

// ---------------- Panel C ----------------
(function drawVenn() {
  const g = svg.append("g");
  const r = 281, cy = 1355;
  const centers = [484, 849];
  const fills = ["#0000ff", "#ffff00"];
  g.selectAll("circle.fill").data(centers).join("circle")
    .attr("cx", d => d).attr("cy", cy).attr("r", r)
    .attr("fill", (d, i) => fills[i]).attr("fill-opacity", 0.5);
  g.selectAll("circle.edge").data(centers).join("circle")
    .attr("cx", d => d).attr("cy", cy).attr("r", r)
    .attr("fill", "none").attr("stroke", "#000000").attr("stroke-width", 3);

  const countX = [centers[0] - 0.217 * r, (centers[0] + centers[1]) / 2, centers[1] + 0.221 * r];
  g.selectAll("text.count").data(vennRegionCounts).join("text")
    .attr("class", "serif")
    .attr("x", (d, i) => countX[i]).attr("y", 1370)
    .attr("text-anchor", "middle")
    .attr("font-weight", "bold").attr("font-size", 53).attr("fill", "#000000")
    .text(d => d);

  const labelX = [443, 895];
  const labels = g.selectAll("text.set").data(vennSetLabels).join("text")
    .attr("text-anchor", "middle").attr("font-size", 34).attr("fill", "#111111");
  labels.each(function (lines, i) {
    d3.select(this).selectAll("tspan").data(lines).join("tspan")
      .attr("x", labelX[i])
      .attr("y", (s, k) => 1050 - (lines.length - 1 - k) * 41)
      .text(s => s);
  });
})();
</script>
</body>
</html>
